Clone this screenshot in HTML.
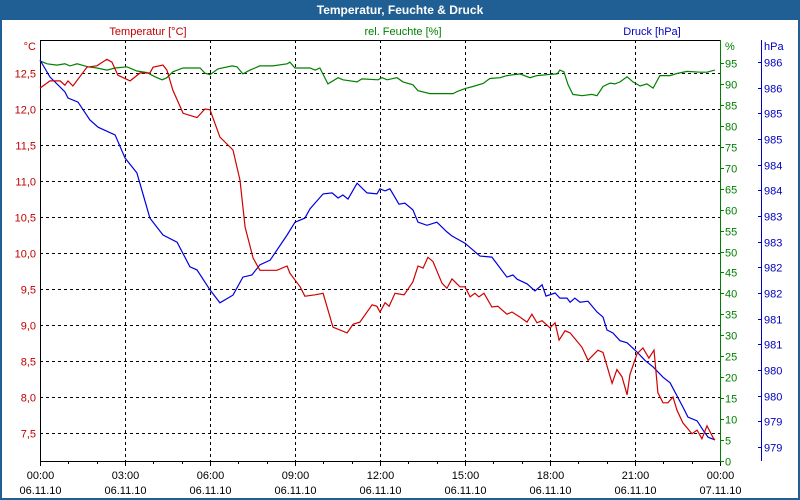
<!DOCTYPE html>
<html><head><meta charset="utf-8"><style>
body{margin:0;background:#fff;font-family:"Liberation Sans",sans-serif}
#wrap{position:relative;width:800px;height:500px;overflow:hidden}
</style></head><body>
<div id="wrap">
<svg id="chart" width="800" height="500" xmlns="http://www.w3.org/2000/svg" font-family="Liberation Sans, sans-serif" font-size="11">
<rect x="0" y="0" width="800" height="500" fill="#1f5f94"/>
<rect x="2" y="20" width="796" height="478" fill="#fff"/>
<text x="400" y="14" text-anchor="middle" fill="#fff" font-weight="bold" font-size="12">Temperatur, Feuchte &amp; Druck</text>
<text x="148" y="35" text-anchor="middle" fill="#c00000">Temperatur [°C]</text>
<text x="403" y="35" text-anchor="middle" fill="#008000">rel. Feuchte [%]</text>
<text x="652" y="35" text-anchor="middle" fill="#0000c0">Druck [hPa]</text>
<text x="36" y="50" text-anchor="end" fill="#c00000">°C</text>
<text x="725" y="50" fill="#008000">%</text>
<text x="764" y="50" fill="#0000c0">hPa</text>
<g id="grid"></g><g id="axes"></g><g id="series"></g>
</svg>
</div>
<script>
const hoursT=[0,.35,.71,.88,.99,1.16,1.66,2.01,2.36,2.54,2.75,3.18,3.53,3.88,3.99,4.34,4.48,4.69,5.05,5.54,5.82,6.0,6.35,6.81,7.06,7.24,7.52,7.76,8.36,8.72,8.82,9.18,9.35,9.71,9.99,10.34,10.84,11.05,11.29,11.72,11.89,12.0,12.18,12.32,12.53,12.85,13.16,13.34,13.52,13.69,13.87,14.19,14.36,14.54,14.82,15.0,15.18,15.35,15.49,15.67,15.95,16.16,16.48,16.66,16.94,17.19,17.36,17.54,17.72,18.0,18.18,18.32,18.53,18.71,19.13,19.34,19.69,19.87,20.19,20.36,20.54,20.72,20.82,21.07,21.28,21.49,21.67,21.81,21.99,22.16,22.34,22.48,22.69,23.01,23.19,23.36,23.54,23.75,23.82];
const temperature=[12.29,12.39,12.39,12.33,12.39,12.32,12.58,12.6,12.69,12.65,12.47,12.39,12.5,12.5,12.58,12.61,12.54,12.26,11.94,11.88,12.0,11.99,11.61,11.43,11.01,10.36,9.93,9.76,9.76,9.82,9.72,9.53,9.4,9.42,9.44,8.97,8.89,9.01,9.04,9.28,9.26,9.18,9.31,9.26,9.44,9.42,9.6,9.82,9.79,9.94,9.88,9.58,9.51,9.64,9.53,9.53,9.39,9.44,9.39,9.44,9.25,9.26,9.15,9.18,9.11,9.04,9.15,9.03,9.06,8.96,9.03,8.79,8.92,8.89,8.69,8.51,8.65,8.62,8.19,8.38,8.28,8.03,8.31,8.6,8.68,8.54,8.65,8.06,7.92,7.92,8.0,7.82,7.64,7.49,7.54,7.42,7.6,7.44,7.4];
const hoursP=[0,.35,.88,.99,1.34,1.76,2.05,2.65,3.0,3.42,3.88,4.34,4.84,5.29,5.54,6.0,6.35,6.81,7.16,7.48,7.76,8.12,8.72,9.0,9.35,9.53,9.99,10.31,10.52,10.69,10.87,11.19,11.54,11.89,12.0,12.18,12.35,12.67,12.88,13.16,13.34,13.66,14.01,14.36,14.54,15.0,15.53,15.95,16.48,16.69,16.84,17.19,17.47,17.72,17.86,18.18,18.35,18.6,18.71,18.88,19.06,19.34,19.66,19.87,20.01,20.22,20.47,20.72,21.07,21.35,21.64,21.99,22.24,22.69,22.87,23.19,23.4,23.58,23.82];
const pressure=[986.54,986.21,985.92,985.8,985.72,985.37,985.23,985.08,984.63,984.34,983.46,983.13,982.99,982.51,982.45,982.06,981.81,981.96,982.31,982.35,982.55,982.64,983.13,983.38,983.46,983.64,983.93,983.95,983.85,983.91,983.83,984.14,983.95,983.93,984.03,983.99,984.03,983.73,983.75,983.62,983.38,983.32,983.38,983.19,983.11,982.97,982.72,982.7,982.31,982.35,982.27,982.18,982.04,982.16,981.94,982.0,981.9,981.9,981.82,981.9,981.82,981.84,981.63,981.53,981.28,981.22,981.07,981.03,980.85,980.69,980.56,980.36,980.25,979.78,979.58,979.51,979.33,979.19,979.14];
const hoursH=[0,.25,.6,.88,1.06,1.31,1.69,2.01,2.36,2.65,3.07,3.42,3.78,4.06,4.31,4.48,4.69,5.05,5.65,5.82,6.0,6.28,6.78,6.95,7.16,7.41,7.76,8.22,8.72,8.82,9.0,9.53,9.71,9.88,10.16,10.52,10.69,11.19,11.36,11.93,12.07,12.25,12.6,12.81,13.16,13.34,13.76,14.58,14.72,15.0,15.28,15.64,15.88,16.24,16.48,16.94,17.29,17.54,17.89,18.25,18.35,18.49,18.64,18.81,19.13,19.48,19.66,19.87,20.12,20.29,20.47,20.72,20.93,21.18,21.42,21.64,21.88,22.24,22.48,22.84,23.29,23.54,23.82];
const humidity=[95.5,94.8,94.5,94.8,94.3,94.8,94.1,93.8,93.3,93.8,94.1,93.1,92.7,91.7,91.0,91.5,92.9,93.8,93.8,92.6,92.2,93.6,94.3,94.1,92.4,93.3,94.3,94.3,94.8,95.2,93.8,93.8,93.3,93.8,90.0,91.5,91.0,90.5,91.2,91.0,91.5,91.0,91.5,90.5,89.8,88.4,87.7,87.7,88.2,88.9,89.4,90.1,91.3,91.5,92.0,92.4,91.5,92.0,92.2,92.4,93.3,92.9,89.8,87.5,87.2,87.5,87.2,89.4,90.2,90.0,90.5,91.7,90.5,89.5,90.0,89.0,92.0,92.0,92.5,93.0,92.8,92.8,93.3];
const tempTicks=[7.5,8.0,8.5,9.0,9.5,10.0,10.5,11.0,11.5,12.0,12.5];
const tempTickLabels=["7,5","8,0","8,5","9,0","9,5","10,0","10,5","11,0","11,5","12,0","12,5"];
const humTicks=[0,5,10,15,20,25,30,35,40,45,50,55,60,65,70,75,80,85,90,95];
const presTicks=[979,979.5,980,980.5,981,981.5,982,982.5,983,983.5,984,984.5,985,985.5,986,986.5];
const presTickLabels=["979","979","980","980","981","981","982","982","983","983","984","984","985","985","986","986"];
const timeTicks=[0,3,6,9,12,15,18,21,24];
const timeLabels=["00:00","03:00","06:00","09:00","12:00","15:00","18:00","21:00","00:00"];
const dateLabels=["06.11.10","06.11.10","06.11.10","06.11.10","06.11.10","06.11.10","06.11.10","06.11.10","07.11.10"];

const X0=40,X1=720,Y0=40,Y1=461;
const xS=h=>X0+h*(X1-X0)/24;
const yT=t=>73-(t-12.5)*72;
const yH=v=>461-v*398/95;
const yP=p=>447-(p-979)*51.33;
const NS="http://www.w3.org/2000/svg";
function mk(tag,attrs,parent,txt){const e=document.createElementNS(NS,tag);for(const k in attrs)e.setAttribute(k,attrs[k]);if(txt!==undefined)e.textContent=txt;parent.appendChild(e);return e;}
const grid=document.getElementById('grid'),axes=document.getElementById('axes'),ser=document.getElementById('series');
tempTicks.forEach((t,i)=>{
  const y=Math.round(yT(t))+.5;
  const l=mk('line',{x1:X0,x2:X1,y1:y,y2:y,stroke:'#000','stroke-dasharray':'3,3'},grid);
  
  
  const tx=mk('text',{x:36,y:y+4,'text-anchor':'end',fill:'#c00000'},axes,tempTickLabels[i]);
  
  
});
timeTicks.forEach((h,i)=>{
  const x=Math.round(xS(h))+.5;
  if(i>0&&i<timeTicks.length-1){
    const l=mk('line',{x1:x,x2:x,y1:Y0,y2:Y1,stroke:'#000','stroke-dasharray':'3,3'},grid);
    
    
  }
  const t1=mk('text',{x:x,y:479,'text-anchor':'middle',fill:'#000'},axes,timeLabels[i]);
  
  
  const t2=mk('text',{x:x,y:494,'text-anchor':'middle',fill:'#000'},axes,dateLabels[i]);
  
  
});
for(let h=0;h<=24;h++){
  const x=Math.round(xS(h))+.5;
  const l=mk('line',{x1:x,x2:x,y1:Y1,y2:Y1+(h%3==0?5:3),stroke:'#000'},axes);
  
  
}
humTicks.forEach(v=>{
  const y=Math.round(yH(v))+.5;
  const l=mk('line',{x1:X1,x2:X1+4,y1:y,y2:y,stroke:'#008000'},axes);
  
  
  const t=mk('text',{x:725,y:y+4,fill:'#008000'},axes,String(v));
  
  
});
presTicks.forEach((p,i)=>{
  const y=Math.round(yP(p))+.5;
  const l=mk('line',{x1:758,x2:761,y1:y,y2:y,stroke:'#0000c0'},axes);
  
  
  const t=mk('text',{x:764,y:y+4,fill:'#0000c0'},axes,presTickLabels[i]);
  
  
});
const ax=[['x-axis',X0,Y1+.5,X1,Y1+.5,'#000'],['temperature-axis',X0+.5,Y0,X0+.5,Y1,'#000'],['plot-top-border',X0,Y0+.5,X1,Y0+.5,'#000'],['humidity-axis',X1+.5,Y0,X1+.5,Y1,'#008000'],['pressure-axis',761.5,Y0,761.5,Y1,'#0000c0']];
ax.forEach(a=>{
  const l=mk('line',{x1:a[1],y1:a[2],x2:a[3],y2:a[4],stroke:a[5]},axes);
  
  
});
function line(hs,vs,yf,col,name){
  const d=hs.map((h,i)=>(i?'L':'M')+xS(h).toFixed(1)+' '+yf(vs[i]).toFixed(1)).join(' ');
  const p=mk('path',{d:d,fill:'none',stroke:col,'stroke-width':1.2},ser);
  
  
}
line(hoursH,humidity,yH,'#008000','humidity-line');
line(hoursP,pressure,yP,'#0000e0','pressure-line');
line(hoursT,temperature,yT,'#d00000','temperature-line');
</script>
</body></html>
